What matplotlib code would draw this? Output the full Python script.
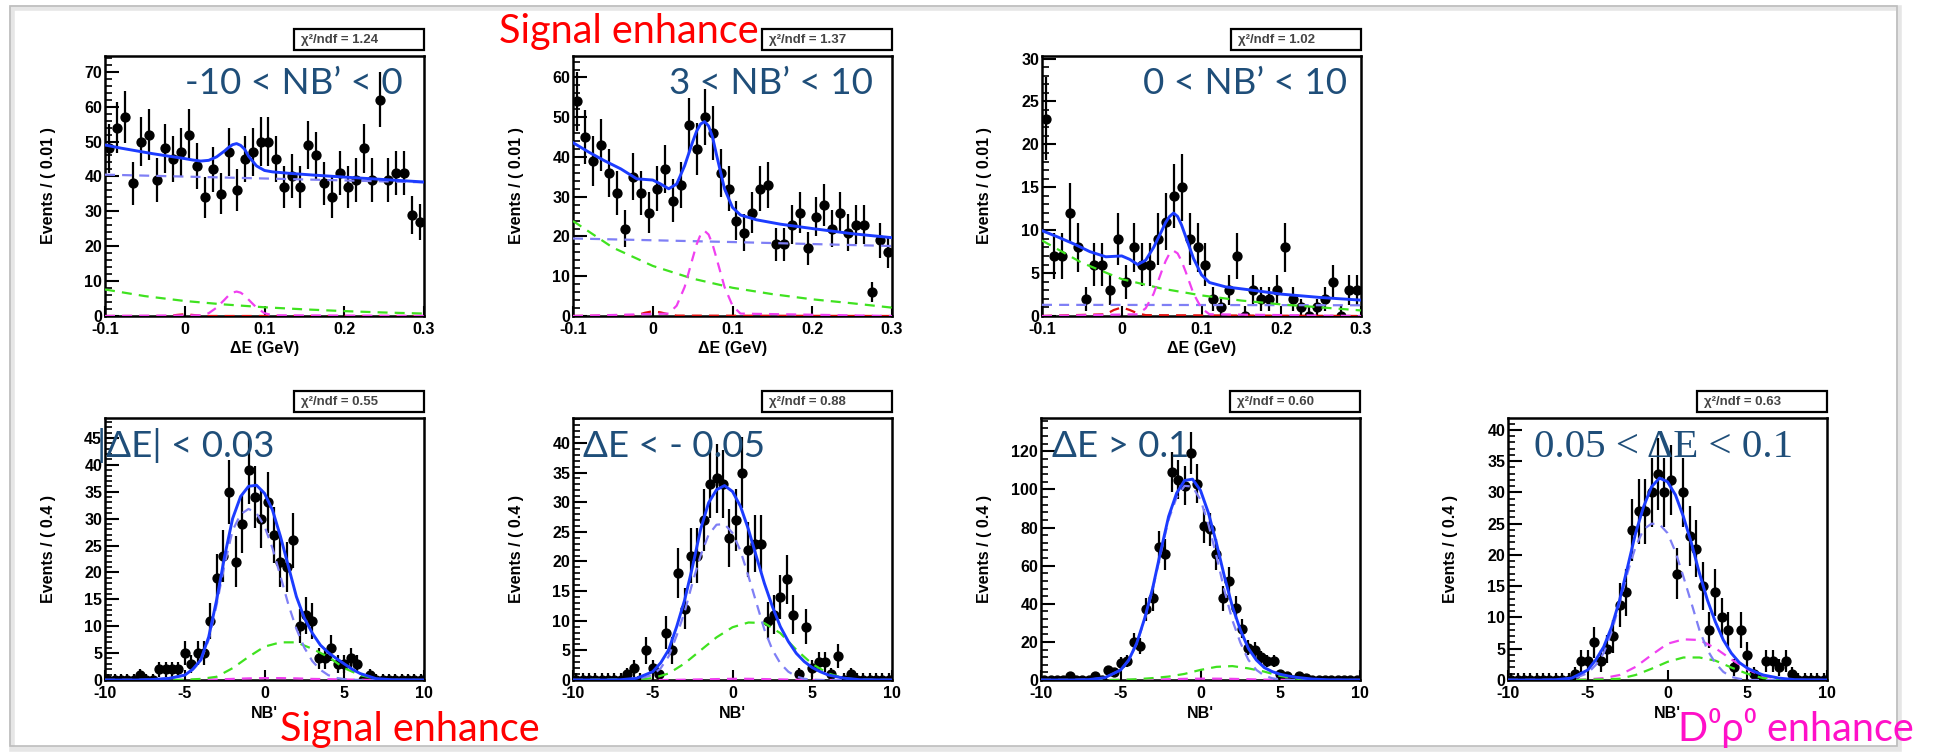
import numpy as np
import matplotlib
matplotlib.use("Agg")
import matplotlib.pyplot as plt
from matplotlib.patches import Rectangle
from matplotlib.ticker import MultipleLocator

W, H = 1934, 752

# ---------------- binning ----------------
de_edges = np.linspace(-0.1, 0.3, 41)
nb_edges = np.linspace(-10, 10, 51)

# ---------------- Delta E fits (top row) ----------------
counts_de_a = [48, 54, 57, 38, 50, 52, 39, 48, 45, 47, 52, 43, 34, 42, 35, 47, 36, 45, 47, 50,
               50, 45, 37, 40, 37, 49, 46, 38, 34, 41, 37, 39, 48, 39, 62, 39, 41, 41, 29, 27]
counts_de_b = [54, 45, 39, 43, 36, 31, 22, 35, 31, 26, 32, 37, 29, 33, 48, 42, 50, 46, 36, 32,
               24, 21, 26, 32, 33, 18, 18, 23, 26, 17, 25, 28, 22, 26, 21, 23, 23, 6, 19, 16]
counts_de_c = [23, 7, 7, 12, 8, 2, 6, 6, 3, 9, 4, 8, 6, 6, 9, 11, 14, 15, 9, 8,
               6, 2, 1, 3, 7, 0, 3, 2, 2, 3, 8, 2, 1, 0, 1, 2, 4, 0, 3, 3]

de_grid = [-0.1, -0.08, -0.06, -0.04, -0.02, 0.0, 0.01, 0.02, 0.03, 0.04, 0.05, 0.055, 0.06,
           0.065, 0.07, 0.075, 0.08, 0.09, 0.1, 0.11, 0.13, 0.16, 0.2, 0.25, 0.3]
total_de_a = [49.0, 48.1, 47.3, 46.5, 45.8, 45.1, 44.7, 44.4, 44.6, 45.6, 47.3, 48.3, 49.1,
              49.4, 48.9, 47.8, 45.8, 43.0, 41.7, 41.3, 40.9, 40.4, 39.8, 39.1, 38.4]
total_de_b = [43.6, 41.2, 39.0, 37.0, 34.5, 34.2, 33.2, 32.0, 33.2, 37.8, 43.8, 46.5, 48.3,
              48.9, 47.8, 45.0, 40.5, 32.0, 27.3, 25.4, 24.2, 23.1, 22.0, 20.7, 19.7]
total_de_c = [9.95, 9.2, 8.4, 7.5, 6.9, 7.0, 6.6, 6.0, 6.5, 8.0, 9.9, 10.9, 11.6,
              12.0, 11.6, 10.6, 9.3, 6.7, 4.8, 3.9, 3.4, 3.05, 2.55, 2.15, 1.85]

de_flat_grid = [-0.1, 0.1, 0.3]
blue_de_a = [40.5, 39.4, 38.3]
blue_de_b = [19.5, 18.6, 17.6]
blue_de_c = [1.3, 1.28, 1.25]

de_slow_grid = [-0.1, -0.05, 0.0, 0.05, 0.1, 0.15, 0.2, 0.25, 0.3]
green_de_a = [7.6, 5.7, 4.3, 3.3, 2.5, 1.9, 1.4, 1.0, 0.7]
green_de_b = [23.9, 17.2, 12.6, 9.4, 7.1, 5.5, 4.2, 3.2, 2.1]
green_de_c = [8.8, 6.2, 4.3, 3.2, 2.4, 1.8, 1.35, 1.0, 0.65]

de_peak_grid = [-0.1, 0.02, 0.03, 0.04, 0.05, 0.055, 0.06, 0.065, 0.07, 0.075, 0.08, 0.09,
                0.1, 0.11, 0.3]
pink_de_a = [0, 0.2, 0.8, 2.4, 4.7, 5.9, 6.7, 7.0, 6.7, 5.9, 4.7, 2.4, 0.8, 0.2, 0]
pink_de_b = [0, 0.6, 2.6, 7.3, 14.5, 18.0, 20.5, 21.4, 20.5, 18.0, 14.5, 7.3, 2.6, 0.6, 0]
pink_de_c = [0, 0.2, 0.9, 2.6, 5.2, 6.4, 7.3, 7.6, 7.3, 6.4, 5.2, 2.6, 0.9, 0.2, 0]

de_red_grid = [-0.1, -0.02, -0.01, 0.0, 0.01, 0.02, 0.03, 0.3]
red_de_a = [0, 0, 0.3, 0.5, 0.3, 0.1, 0, 0]
red_de_b = [0, 0.2, 0.8, 1.2, 0.9, 0.4, 0.1, 0]
red_de_c = [0, 0.2, 0.7, 1.0, 0.7, 0.3, 0.1, 0]

# ---------------- NB' fits (bottom row) ----------------
counts_nb_d = [0, 0, 0, 0, 0, 1, 0, 0, 2, 2, 2, 2, 5, 3, 5, 5, 11, 19, 23, 35, 22, 29, 39, 34, 30,
               33, 27, 22, 21, 26, 10, 12, 11, 4, 4, 6, 3, 3, 4, 3, 0, 1, 0, 0, 0, 0, 0, 0, 0, 0]
counts_nb_e = [0, 0, 0, 0, 0, 0, 0, 0, 1, 2, 0, 5, 2, 1, 8, 5, 18, 12, 21, 21, 27, 33, 34, 33, 24,
               27, 35, 22, 23, 23, 10, 11, 14, 17, 11, 1, 9, 2, 3, 3, 1, 4, 0, 1, 0, 0, 0, 0, 0, 0]
counts_nb_f = [0, 0, 0, 0, 2, 0, 0, 0, 2, 0, 5, 4, 9, 10, 20, 18, 37, 43, 70, 66, 109, 105, 102, 119, 103,
               81, 79, 66, 43, 52, 38, 27, 17, 16, 12, 10, 10, 3, 2, 0, 2, 1, 0, 0, 0, 0, 0, 0, 0, 0]
counts_nb_g = [0, 0, 0, 0, 0, 0, 0, 0, 0, 0, 1, 3, 3, 6, 3, 5, 7, 12, 14, 24, 27, 27, 30, 33, 30,
               32, 17, 30, 23, 21, 15, 8, 14, 10, 8, 2, 8, 4, 1, 0, 3, 3, 2, 3, 1, 0, 0, 0, 0, 0]

nb_grid = [-10, -8, -7, -6, -5, -4.5, -4, -3.5, -3, -2.5, -2, -1.5, -1, -0.5, 0, 0.5, 1, 1.5,
           2, 2.5, 3, 3.5, 4, 4.5, 5, 5.5, 6, 7, 8, 10]
total_nb_d = [0, 0, 0.1, 0.3, 0.9, 2.0, 3.7, 8.0, 14.9, 23.0, 30.0, 34.1, 36.0, 36.2, 34.7, 31.6,
              26.7, 21.1, 15.5, 11.5, 8.7, 6.5, 5.1, 4.0, 3.0, 2.0, 1.2, 0.25, 0.05, 0]
blue_nb_d = [0, 0, 0.05, 0.3, 0.9, 1.9, 3.5, 7.5, 14.0, 21.5, 27.8, 30.8, 31.8, 31.0, 28.6, 24.5,
             19.3, 14.0, 9.5, 6.0, 3.5, 1.9, 0.9, 0.4, 0.15, 0.05, 0, 0, 0, 0]
total_nb_e = [0, 0, 0.05, 0.3, 1.4, 2.9, 5.1, 9.0, 13.5, 19.2, 25.4, 29.9, 32.1, 32.8, 31.8, 29.3,
              25.4, 20.8, 16.3, 12.4, 9.0, 6.5, 4.5, 3.1, 2.1, 1.4, 0.85, 0.3, 0.05, 0]
blue_nb_e = [0, 0, 0, 0.1, 0.85, 2.0, 4.0, 7.5, 11.5, 16.5, 21.0, 24.5, 26.2, 26.3, 24.8, 21.8,
             17.5, 13.0, 8.5, 5.1, 2.8, 1.4, 0.6, 0.2, 0.05, 0, 0, 0, 0, 0]
total_nb_f = [0, 0, 0.2, 1.2, 5.3, 10.5, 19.3, 32.4, 48.2, 67.4, 85.8, 98.0, 104.7, 105.4, 99.5,
              87.6, 71.8, 54.3, 38.5, 26.3, 16.6, 10.5, 6.5, 4.4, 3.0, 2.1, 1.4, 0.5, 0.1, 0]
blue_nb_f = [0, 0, 0.2, 1.1, 5.2, 10.3, 19.0, 31.8, 47.4, 66.2, 84.2, 95.8, 101.9, 101.5, 94.6,
             81.6, 65.0, 47.0, 31.3, 19.6, 10.6, 5.3, 2.3, 0.9, 0.3, 0.1, 0, 0, 0, 0]
total_nb_g = [0, 0, 0.05, 0.3, 1.6, 3.2, 5.3, 8.5, 12.8, 18.1, 23.5, 27.7, 30.9, 32.3, 31.7, 29.6,
              26.1, 21.9, 17.1, 12.8, 9.3, 6.4, 4.3, 2.8, 1.9, 1.3, 0.8, 0.3, 0.05, 0]
blue_nb_g = [0, 0, 0, 0.1, 1.1, 2.4, 4.3, 7.7, 12.3, 17.2, 21.3, 24.1, 25.0, 24.9, 23.5, 20.5,
             16.5, 12.3, 8.0, 4.8, 2.7, 1.3, 0.5, 0.2, 0, 0, 0, 0, 0, 0]

nb_wide_grid = [-10, -6, -5, -4, -3, -2, -1, 0, 1, 2, 3, 4, 5, 6, 7, 8, 10]
green_nb_d = [0, 0, 0.05, 0.2, 0.6, 2.2, 4.3, 6.2, 7.0, 7.0, 5.8, 4.3, 2.2, 0.9, 0.2, 0, 0]
pink_nb_d = [0, 0, 0, 0.05, 0.1, 0.2, 0.3, 0.35, 0.35, 0.3, 0.2, 0.15, 0.1, 0.05, 0, 0, 0]
green_nb_e = [0, 0.1, 0.3, 1.1, 2.8, 5.0, 7.2, 8.9, 9.7, 9.6, 7.9, 5.1, 2.7, 1.1, 0.3, 0.05, 0]
pink_nb_e = [0, 0, 0, 0, 0.05, 0.1, 0.15, 0.2, 0.2, 0.15, 0.1, 0.05, 0, 0, 0, 0, 0]
green_nb_f = [0, 0, 0.1, 0.4, 1.0, 1.8, 3.2, 5.3, 6.9, 7.3, 6.1, 4.4, 2.1, 0.7, 0.2, 0, 0]
pink_nb_f = [0, 0, 0, 0.1, 0.2, 0.4, 0.6, 0.7, 0.7, 0.6, 0.4, 0.2, 0.1, 0, 0, 0, 0]
green_nb_g = [0, 0, 0.05, 0.1, 0.2, 0.8, 1.8, 2.9, 3.6, 3.6, 3.1, 2.0, 1.0, 0.3, 0.1, 0, 0]
pink_nb_g = [0, 0, 0.1, 0.3, 0.8, 2.1, 4.0, 5.8, 6.5, 6.4, 5.1, 3.3, 1.7, 0.6, 0.2, 0, 0]

chi2_labels = ["1.24", "1.37", "1.02", "0.55", "0.88", "0.60", "0.63"]
cut_labels = ["-10 < NB\u2019 < 0", "3 < NB\u2019 < 10", "0 < NB\u2019 < 10",
              "|\u0394E| < 0.03", "\u0394E < - 0.05", "\u0394E > 0.1", "0.05 < \u0394E < 0.1"]
de_ticklabels = ["-0.1", "0", "0.1", "0.2", "0.3"]
nb_ticklabels = ["-10", "-5", "0", "5", "10"]

# ---------------- style ----------------
plt.rcParams['font.family'] = ['Liberation Sans', 'DejaVu Sans']
plt.rcParams['font.weight'] = 'bold'

C_TOT = '#1c3cff'
C_BLUE = '#7f7ff5'
C_GREEN = '#3fe21f'
C_PINK = '#f040f0'
C_RED = '#e01010'
DASH = (0, (4.5, 3.2))

fig = plt.figure(figsize=(W / 100, H / 100), dpi=100)
fig.patch.set_facecolor('white')

# slide frame with a soft shadow
fig.add_artist(Rectangle((12 / W, 1 - 749 / H), 1887 / W, 741 / H, transform=fig.transFigure,
                         fill=False, ec='#e6e6e6', lw=4))
fig.add_artist(Rectangle((10 / W, 1 - 746 / H), 1887 / W, 740 / H, transform=fig.transFigure,
                         fill=False, ec='#bdbdbd', lw=1.2))


def draw_panel(left, top, height, edges, counts, curves, ylim, ystep, xticks, xticklabels,
               xlabel, ylabel, chi2):
    width = 319
    ax = fig.add_axes([left / W, 1 - (top + height) / H, width / W, height / H])
    centers = 0.5 * (edges[:-1] + edges[1:])
    half = 0.5 * (edges[1] - edges[0])
    n = np.asarray(counts, float)
    lo = np.sqrt(n)
    hi = np.where(n > 0, np.sqrt(n), 1.15)
    ax.errorbar(centers, n, yerr=[lo, hi], xerr=half, fmt='o', color='black', ms=6.4,
                elinewidth=1.6, capsize=0, zorder=2)
    for xs, ys, color, ls, lw in curves:
        ax.plot(xs, ys, color=color, ls=ls, lw=lw, zorder=3)
    ax.set_xlim(edges[0], edges[-1])
    ax.set_ylim(*ylim)
    ax.set_xticks(xticks, xticklabels)
    ax.yaxis.set_major_locator(MultipleLocator(ystep))
    ax.yaxis.set_minor_locator(MultipleLocator(ystep / 5))
    ax.tick_params(axis='y', which='major', direction='in', length=10, width=1.5,
                   labelsize=11.5, pad=2)
    ax.tick_params(axis='y', which='minor', direction='in', length=5, width=1.2)
    ax.tick_params(axis='x', which='major', direction='in', length=7, width=1.5,
                   labelsize=11.5, pad=4)
    for s in ax.spines.values():
        s.set_linewidth(1.8)
    ax.text(-57 / width, 0.5, ylabel, transform=ax.transAxes, rotation=90,
            ha='center', va='center', fontsize=11.5, fontweight='bold')
    ax.text(0.5, -33 / height, xlabel, transform=ax.transAxes, ha='center', va='center',
            fontsize=11.5, fontweight='bold')
    # chi2 box
    bx = left + width - 130
    fig.add_artist(Rectangle((bx / W, 1 - (top - 6) / H), 130 / W, 21 / H,
                             transform=fig.transFigure, fc='white', ec='black', lw=1.6))
    fig.text((bx + 7) / W, 1 - (top - 16.5) / H, "\u03c7\u00b2/ndf = " + chi2,
             fontsize=9.5, fontweight='bold', color='#444444', ha='left', va='center')
    return ax


de_ticks = [-0.1, 0.0, 0.1, 0.2, 0.3]
nb_ticks = [-10, -5, 0, 5, 10]
top_curves = [
    [(de_red_grid, red_de_a, C_RED, DASH, 1.6), (de_flat_grid, blue_de_a, C_BLUE, DASH, 1.6),
     (de_slow_grid, green_de_a, C_GREEN, DASH, 1.6), (de_peak_grid, pink_de_a, C_PINK, DASH, 1.6),
     (de_grid, total_de_a, C_TOT, '-', 2.1)],
    [(de_red_grid, red_de_b, C_RED, DASH, 1.6), (de_flat_grid, blue_de_b, C_BLUE, DASH, 1.6),
     (de_slow_grid, green_de_b, C_GREEN, DASH, 1.6), (de_peak_grid, pink_de_b, C_PINK, DASH, 1.6),
     (de_grid, total_de_b, C_TOT, '-', 2.1)],
    [(de_red_grid, red_de_c, C_RED, DASH, 1.6), (de_flat_grid, blue_de_c, C_BLUE, DASH, 1.6),
     (de_slow_grid, green_de_c, C_GREEN, DASH, 1.6), (de_peak_grid, pink_de_c, C_PINK, DASH, 1.6),
     (de_grid, total_de_c, C_TOT, '-', 2.1)],
]
bottom_curves = [
    [(nb_wide_grid, pink_nb_d, C_PINK, DASH, 1.6), (nb_wide_grid, green_nb_d, C_GREEN, DASH, 1.6),
     (nb_grid, blue_nb_d, C_BLUE, DASH, 1.6), (nb_grid, total_nb_d, C_TOT, '-', 2.1)],
    [(nb_wide_grid, pink_nb_e, C_PINK, DASH, 1.6), (nb_wide_grid, green_nb_e, C_GREEN, DASH, 1.6),
     (nb_grid, blue_nb_e, C_BLUE, DASH, 1.6), (nb_grid, total_nb_e, C_TOT, '-', 2.1)],
    [(nb_wide_grid, pink_nb_f, C_PINK, DASH, 1.6), (nb_wide_grid, green_nb_f, C_GREEN, DASH, 1.6),
     (nb_grid, blue_nb_f, C_BLUE, DASH, 1.6), (nb_grid, total_nb_f, C_TOT, '-', 2.1)],
    [(nb_wide_grid, pink_nb_g, C_PINK, DASH, 1.6), (nb_wide_grid, green_nb_g, C_GREEN, DASH, 1.6),
     (nb_grid, blue_nb_g, C_BLUE, DASH, 1.6), (nb_grid, total_nb_g, C_TOT, '-', 2.1)],
]

top_counts = [counts_de_a, counts_de_b, counts_de_c]
top_ylims = [(0, 74.5), (0, 65.4), (0, 30.3)]
top_steps = [10, 10, 5]
top_lefts = [105, 573, 1042]
for i in range(3):
    draw_panel(top_lefts[i], 56, 260, de_edges, top_counts[i], top_curves[i], top_ylims[i],
               top_steps[i], de_ticks, de_ticklabels, "\u0394E (GeV)", "Events / ( 0.01 )",
               chi2_labels[i])

bottom_counts = [counts_nb_d, counts_nb_e, counts_nb_f, counts_nb_g]
bottom_ylims = [(0, 48.7), (0, 44.2), (0, 137.5), (0, 41.9)]
bottom_steps = [5, 5, 20, 5]
bottom_lefts = [105, 573, 1041, 1508]
for i in range(4):
    draw_panel(bottom_lefts[i], 418, 262, nb_edges, bottom_counts[i], bottom_curves[i],
               bottom_ylims[i], bottom_steps[i], nb_ticks, nb_ticklabels, "NB'",
               "Events / ( 0.4 )", chi2_labels[3 + i])

# ---------------- slide annotations ----------------
SANS = ['Lato', 'DejaVu Sans']
BLUE_TXT = '#1f4e79'
cut_pos = [(185, 94), (669, 94), (1143, 94), (97, 457), (583, 457), (1052, 457)]
for (x, y), lab in zip(cut_pos, cut_labels[:6]):
    fig.text(x / W, 1 - y / H, lab, fontsize=26.5, family=SANS, fontweight='normal',
             color=BLUE_TXT, ha='left', va='baseline', zorder=10)
fig.text(1534 / W, 1 - 457 / H, cut_labels[6], fontsize=29.5,
         family=['Liberation Serif', 'DejaVu Serif'],
         fontweight='normal', color=BLUE_TXT, ha='left', va='baseline', zorder=10)

fig.text(499 / W, 1 - 43 / H, "Signal enhance", fontsize=28.5, family=SANS, fontweight='normal',
         color='#ff0000', ha='left', va='baseline', zorder=10)
fig.text(280 / W, 1 - 741 / H, "Signal enhance", fontsize=28.5, family=SANS, fontweight='normal',
         color='#ff0000', ha='left', va='baseline', zorder=10)
fig.text(1678 / W, 1 - 741 / H, "D\u2070\u03c1\u2070 enhance", fontsize=28.5, family=SANS,
         fontweight='normal', color='#ff10c8', ha='left', va='baseline', zorder=10)

fig.savefig("out.png", dpi=100, facecolor='white')
